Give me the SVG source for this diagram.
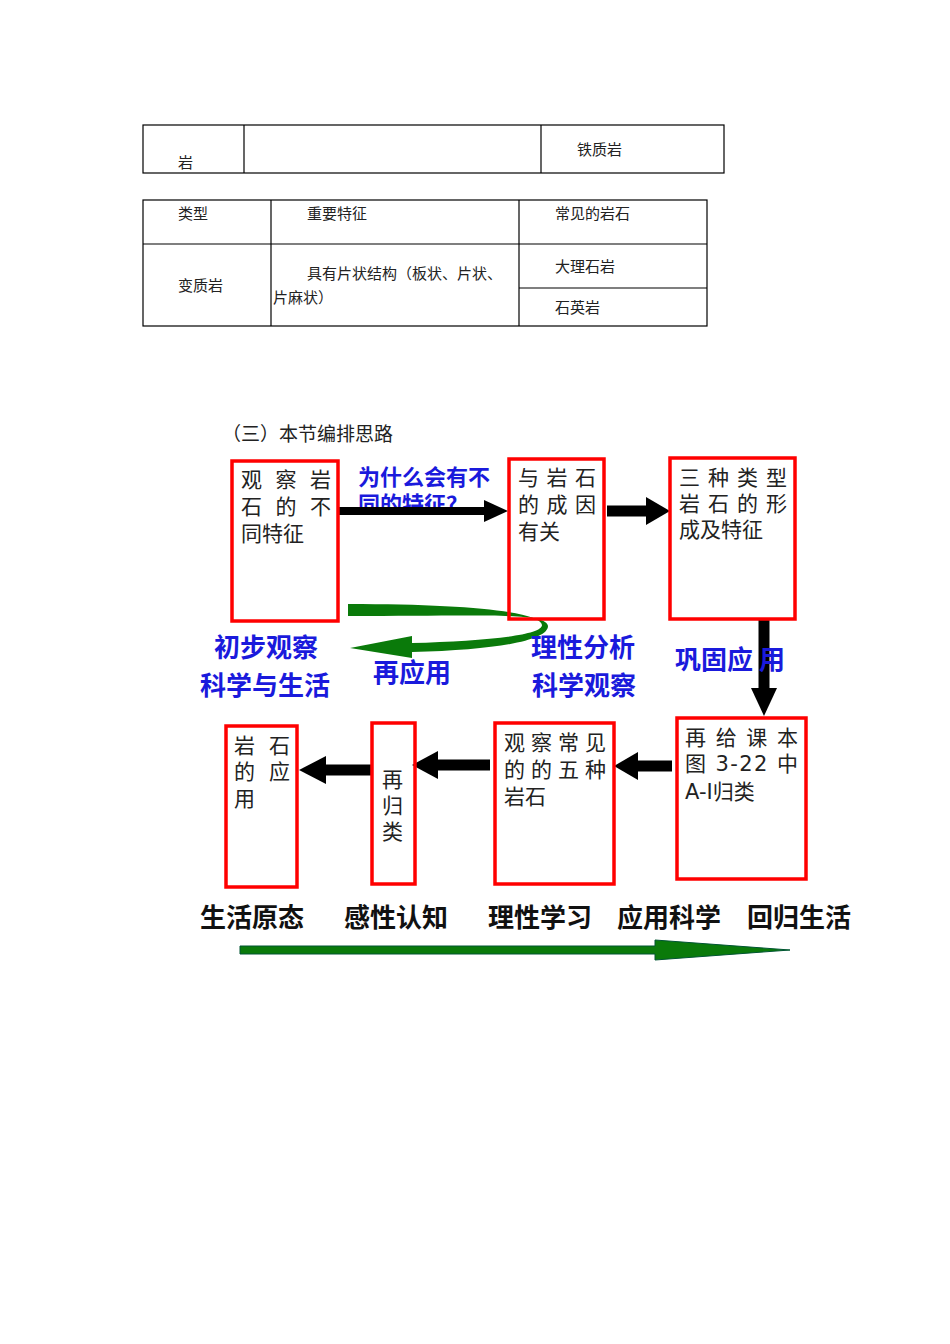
<svg xmlns="http://www.w3.org/2000/svg" width="950" height="1344" viewBox="0 0 950 1344">
<style>
.tb{font-family:"Noto Sans CJK SC","Liberation Serif",serif;font-size:15px;fill:#222}
.bx{fill:none;stroke:#f00;stroke-width:3.5}
.bt{font-family:"DejaVu Sans","Noto Sans CJK SC",sans-serif;font-size:21px;fill:#222}
.bl{font-family:"Noto Sans CJK SC",sans-serif;font-size:26px;font-weight:bold;fill:#1a1adc}
.bk{font-family:"Noto Sans CJK SC",sans-serif;font-size:26px;font-weight:bold;fill:#111}
.ln{stroke:#000;stroke-width:1.2;fill:none}
</style>
<rect width="950" height="1344" fill="#fff"/>
<g id="table1">
<rect class="ln" x="143" y="125" width="581" height="48"/>
<line class="ln" x1="244" y1="125" x2="244" y2="173"/>
<line class="ln" x1="541" y1="125" x2="541" y2="173"/>
<text class="tb" x="178" y="168">岩</text>
<text class="tb" x="577" y="155">铁质岩</text>
</g>
<g id="table2">
<rect class="ln" x="143" y="200" width="564" height="126"/>
<line class="ln" x1="271" y1="200" x2="271" y2="326"/>
<line class="ln" x1="519" y1="200" x2="519" y2="326"/>
<line class="ln" x1="143" y1="244" x2="707" y2="244"/>
<line class="ln" x1="519" y1="288" x2="707" y2="288"/>
<text class="tb" x="178" y="219">类型</text>
<text class="tb" x="307" y="219">重要特征</text>
<text class="tb" x="555" y="219">常见的岩石</text>
<text class="tb" x="178" y="291">变质岩</text>
<text class="tb" x="307" y="279">具有片状结构（板状、片状、</text>
<text class="tb" x="273" y="303">片麻状）</text>
<text class="tb" x="555" y="272">大理石岩</text>
<text class="tb" x="555" y="313">石英岩</text>
</g>
<text class="tb" x="222" y="441" style="font-size:19px">（三）本节编排思路</text>
<g id="labels-top">
<text class="bl" x="358" y="485" style="font-size:22px">为什么会有不</text>
<text class="bl" x="358" y="512" style="font-size:22px">同的特征？</text>
</g>
<g id="connectors">
<line x1="338" y1="511" x2="486" y2="511" stroke="#000" stroke-width="8"/>
<polygon points="484,500 508,511 484,522" fill="#000"/>
<line x1="607" y1="511" x2="648" y2="511" stroke="#000" stroke-width="11"/>
<polygon points="646,497 670,511 646,525" fill="#000"/>
<line x1="764" y1="619" x2="764" y2="690" stroke="#000" stroke-width="11"/>
<polygon points="751,688 764,716 777,688" fill="#000"/>
<line x1="672" y1="766" x2="636" y2="766" stroke="#000" stroke-width="11"/>
<polygon points="638,752 614,766 638,780" fill="#000"/>
<line x1="490" y1="765" x2="436" y2="765" stroke="#000" stroke-width="11"/>
<polygon points="438,751 412,765 438,779" fill="#000"/>
<line x1="372" y1="770" x2="324" y2="770" stroke="#000" stroke-width="11"/>
<polygon points="326,756 299,770 326,784" fill="#000"/>
<path d="M348,604 C470,604 540,612 542,625 C542,636 480,641 412,643 L412,636 L350,648 L412,658 L412,652 C500,650 548,640 548,626 C546,612 480,616 348,616 Z" fill="#0a7a0a"/>
<polygon points="240,946 655,946 655,940 790,950 655,960 655,954 240,954" fill="#0a7a0a" stroke="#053" stroke-width="1"/>
</g>
<g id="n1"><rect class="bx" x="232" y="461" width="106" height="160"/>
<text class="bt" x="241" y="487" textLength="90">观察岩</text><text class="bt" x="241" y="514" textLength="90">石的不</text><text class="bt" x="241" y="541">同特征</text></g>
<g id="n2"><rect class="bx" x="509" y="459" width="95" height="160"/>
<text class="bt" x="518" y="485" textLength="78">与岩石</text><text class="bt" x="518" y="512" textLength="78">的成因</text><text class="bt" x="518" y="539">有关</text></g>
<g id="n3"><rect class="bx" x="670" y="458" width="125" height="161"/>
<text class="bt" x="679" y="485" textLength="108">三种类型</text><text class="bt" x="679" y="511" textLength="108">岩石的形</text><text class="bt" x="679" y="537">成及特征</text></g>
<g id="n4"><rect class="bx" x="677" y="718" width="129" height="161"/>
<text class="bt" x="685" y="745" textLength="113">再给课本</text><text class="bt" x="685" y="771" textLength="113">图 3-22 中</text><text class="bt" x="685" y="799">A-I归类</text></g>
<g id="n5"><rect class="bx" x="495" y="723" width="119" height="161"/>
<text class="bt" x="504" y="750" textLength="102">观察常见</text><text class="bt" x="504" y="777" textLength="102">的的五种</text><text class="bt" x="504" y="804">岩石</text></g>
<g id="n6"><rect class="bx" x="372" y="723" width="43" height="161"/>
<text class="bt" x="382" y="787">再</text><text class="bt" x="382" y="813">归</text><text class="bt" x="382" y="839">类</text></g>
<g id="n7"><rect class="bx" x="226" y="726" width="71" height="161"/>
<text class="bt" x="234" y="753" textLength="56">岩石</text><text class="bt" x="234" y="779" textLength="56">的应</text><text class="bt" x="234" y="806">用</text></g>
<g id="labels">
<text class="bl" x="214" y="657">初步观察</text>
<text class="bl" x="200" y="695">科学与生活</text>
<text class="bl" x="373" y="682">再应用</text>
<text class="bl" x="531" y="657">理性分析</text>
<text class="bl" x="532" y="695">科学观察</text>
<text class="bl" x="675" y="669">巩固应 用</text>
<text class="bk" x="200" y="927">生活原态</text>
<text class="bk" x="344" y="927">感性认知</text>
<text class="bk" x="488" y="927">理性学习</text>
<text class="bk" x="617" y="927">应用科学</text>
<text class="bk" x="747" y="927">回归生活</text>
</g>
</svg>
